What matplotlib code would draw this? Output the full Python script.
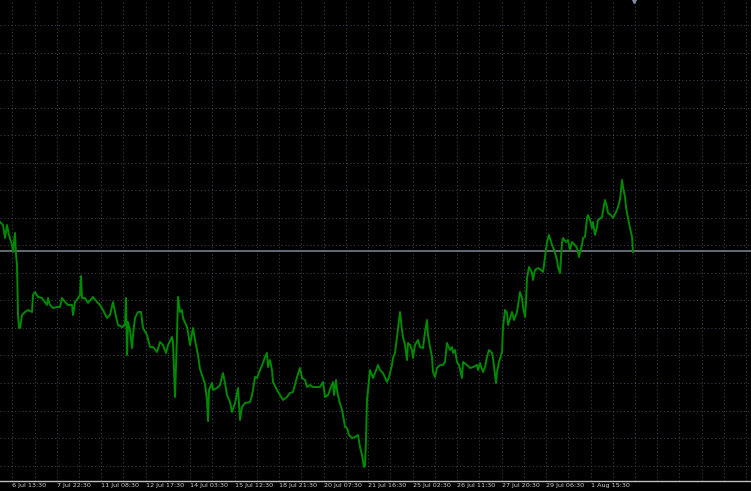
import numpy as np
import matplotlib
matplotlib.use("Agg")
import matplotlib.pyplot as plt

# bar index (one bar per screen pixel) and close
bars = [0, 3, 5, 7, 9, 12, 13, 15, 16, 17, 18, 19, 20, 22, 25, 28, 32, 33, 35, 38,
        42, 47, 48, 50, 53, 57, 60, 62, 65, 68, 72, 73, 75, 78, 80, 81, 82, 85, 88, 93,
        97, 100,
        103, 107, 110, 113, 115, 118, 122, 125, 126, 127, 128, 130, 132, 133, 135, 138,
        141, 143, 147, 150, 153, 157, 160, 163, 166, 168, 172, 173, 175, 177, 178, 180,
        182, 183, 187, 188, 190, 193, 195, 198, 200, 203, 205, 207, 208, 209,
        212, 213, 217, 220, 223, 225, 227, 230, 232, 235, 238, 240, 242, 245, 250, 252,
        253, 255, 257, 260, 263, 265, 267, 268, 270, 272, 273, 277, 280, 283, 287, 290,
        293, 297, 300, 302, 305, 307, 310, 313, 317, 320,
        323, 325, 328, 331, 333, 334, 336, 337, 339, 342, 343, 345, 347, 349, 352, 355,
        358, 360, 362, 364, 365, 366, 367, 368, 370, 373, 375, 377, 378, 380, 383, 387,
        389, 392, 393, 395, 397, 400, 402, 403, 405, 407, 408,
        410, 412, 413, 415, 418, 420, 423, 425, 427, 428, 430, 432, 433, 435, 437, 440,
        443, 445, 447, 450, 452, 453, 455, 457, 459, 462, 463, 467, 470, 473, 477, 478,
        480, 483, 485, 487, 489, 492, 493, 496, 497, 499, 502, 503, 505, 507, 508, 512,
        514, 517,
        520, 522, 523, 525, 526, 527, 529, 532, 533, 535, 538, 541, 543, 544, 546, 547,
        549, 552, 553, 555, 557, 558, 560, 562, 563, 566, 568, 570, 572, 575, 577, 579,
        582, 583, 585, 587, 588, 590, 592, 593, 595, 597, 598, 602, 605, 607, 608, 611,
        613, 617, 620, 622, 623, 625, 626, 627, 629, 632, 633]

close = [278, 275, 262, 275, 265, 255, 248, 267, 245, 235, 185, 172, 172, 185, 188, 190, 188, 205, 208, 203,
         202, 195, 202, 195, 192, 193, 193, 202, 198, 195, 195, 185, 198, 202, 205, 224, 202, 202, 197, 203,
         198, 195,
         190, 182, 185, 198, 188, 175, 173, 175, 202, 145, 178, 170, 152, 165, 182, 188,
         188, 172, 165, 153, 153, 148, 158, 155, 147, 155, 163, 158, 103, 165, 203, 188,
         190, 182, 173, 168, 155, 172, 160, 145, 131, 122, 116, 100, 79, 110,
         117, 110, 112, 115, 127, 117, 105, 98, 88, 97, 112, 80, 93, 97, 98, 105,
         110, 123, 122, 130, 137, 143, 147, 133, 140, 130, 118, 110, 105, 100, 103, 107,
         108, 123, 132, 122, 120, 113, 115, 113, 113, 113,
         118, 103, 105, 113, 118, 105, 120, 110, 100, 90, 85, 73, 72, 65, 62, 63,
         65, 53, 45, 33, 35, 60, 100, 110, 130, 122, 127, 132, 135, 130, 127, 118,
         123, 135, 142, 147, 163, 188, 170, 163, 155, 140, 157,
         155, 150, 142, 155, 160, 153, 152, 168, 180, 165, 153, 143, 128, 123, 132, 135,
         135, 138, 157, 150, 153, 147, 150, 138, 135, 122, 138, 135, 132, 133, 135, 130,
         137, 128, 133, 143, 150, 147, 142, 117, 128, 138, 148, 173, 190, 187, 175, 188,
         180, 188,
         208, 202, 193, 183, 197, 222, 233, 227, 220, 230, 232, 230, 228, 235, 250, 258,
         265, 255, 253, 247, 240, 233, 227, 257, 262, 258, 260, 250, 258, 255, 252, 243,
         255, 262, 263, 282, 285, 280, 272, 278, 265, 273, 280, 283, 300, 293, 287, 285,
         282, 290, 300, 320, 313, 303, 293, 287, 277, 263, 248]

bid = 249
shift_bar = 634

time_labels = ["6 Jul 13:30", "7 Jul 22:30", "11 Jul 08:30", "12 Jul 17:30",
               "14 Jul 03:30", "15 Jul 12:30", "18 Jul 21:30", "20 Jul 07:30",
               "21 Jul 16:30", "25 Jul 02:30", "26 Jul 11:30", "27 Jul 20:30",
               "29 Jul 06:30", "1 Aug 15:30"]

fig = plt.figure(figsize=(7.51, 4.91), dpi=100, facecolor="black")
ax = fig.add_axes([0, 10 / 491, 1, 481 / 491])
ax.set_facecolor("black")
ax.set_xlim(0, 751)
ax.set_ylim(19, 500)

# grid
xgrid = 12.3 + 22.24 * np.arange(34)
ygrid = 475 - 27.54 * np.arange(17)
ax.set_xticks(xgrid)
ax.set_yticks(ygrid)
labels = []
for i in range(len(xgrid)):
    if i % 2 == 0 and i // 2 < len(time_labels):
        labels.append(time_labels[i // 2])
    else:
        labels.append("")
ax.set_xticklabels(labels, fontsize=4.6, color="#d0d0d0",
                   family=["Liberation Sans Narrow", "DejaVu Sans"])
for lbl in ax.get_xticklabels():
    lbl.set_horizontalalignment("left")
ax.tick_params(axis="x", length=0, pad=1.2)
ax.tick_params(axis="y", length=0, labelleft=False)
ax.grid(True, color="#3e444e", linestyle=(0, (1, 2.5)), linewidth=0.75)

for s in ["top", "left", "right"]:
    ax.spines[s].set_visible(False)
ax.spines["bottom"].set_color("#c0c0c0")
ax.spines["bottom"].set_linewidth(1.0)

# bid line
ax.axhline(bid, color="#767d88", linewidth=1.2)

# price line
ax.plot(bars, close, color="#008a00", linewidth=1.4)

# chart shift marker
ax.plot([shift_bar], [500], marker="v", markersize=4, color="#7d8ea8", clip_on=False)

fig.savefig("out.png", dpi=100, facecolor="black")
